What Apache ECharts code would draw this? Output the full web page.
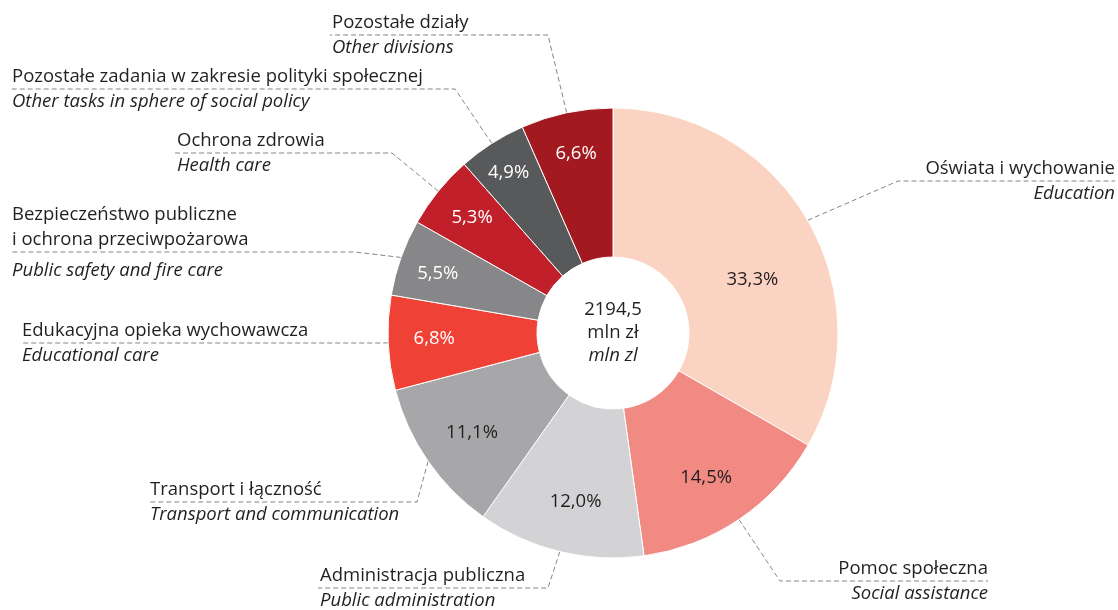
<!DOCTYPE html>
<html>
<head>
<meta charset="utf-8">
<script src="https://cdn.jsdelivr.net/npm/echarts@6/dist/echarts.min.js"></script>
<style>
  html, body { margin: 0; padding: 0; background: #fff; }
  #chart { width: 1118px; height: 610px; }
</style>
</head>
<body>
<div id="chart"></div>
<script>
// dane
var namesPl = ['Oświata i wychowanie', 'Pomoc społeczna', 'Administracja publiczna', 'Transport i łączność',
  'Edukacyjna opieka wychowawcza', 'Bezpieczeństwo publiczne\ni ochrona przeciwpożarowa', 'Ochrona zdrowia',
  'Pozostałe zadania w zakresie polityki społecznej', 'Pozostałe działy'];
var namesEn = ['Education', 'Social assistance', 'Public administration', 'Transport and communication',
  'Educational care', 'Public safety and fire care', 'Health care',
  'Other tasks in sphere of social policy', 'Other divisions'];
var shares = [33.3, 14.5, 12.0, 11.1, 6.8, 5.5, 5.3, 4.9, 6.6];
var totalLabel = ['2194,5', 'mln zł', 'mln zl'];

// wyglad
var colors = ['#fbd3c2', '#f28a84', '#d3d3d5', '#a7a7aa', '#ef4135', '#87878a', '#c1202b', '#58595b', '#a2191f'];
var pctColors = ['#231f20', '#231f20', '#231f20', '#231f20', '#fff', '#fff', '#fff', '#fff', '#fff'];
var pctRadius = [146, 170, 171, 174, 180, 186, 184, 192, 184];
var pctNudge = [[13, 20], [-2, 4], [3, 3], [2, 1], [1, -2], [0, 3], [2, 1], [-1, 2], [1, 1]];
var labelPos = [
  {side: 'right', lineY: 181, elbowX: 898, textX: 1115},
  {side: 'right', lineY: 581, elbowX: 780, textX: 988},
  {side: 'left', lineY: 588, elbowX: 548, textX: 320},
  {side: 'left', lineY: 502, elbowX: 417, textX: 150},
  {side: 'left', lineY: 343, elbowX: 380, textX: 22},
  {side: 'left', lineY: 252, elbowX: 355, textX: 12, enLH: 37},
  {side: 'left', lineY: 153, elbowX: 392, textX: 177},
  {side: 'left', lineY: 89, elbowX: 455, textX: 12},
  {side: 'left', lineY: 35, elbowX: 548, textX: 332}
];

var CX = 613, CY = 333, R0 = 76, R1 = 225;
var FONT = '"Open Sans", sans-serif';
var FS = 18.5, LH = 25;
var TXT = '#231f20';

var chart = echarts.init(document.getElementById('chart'), null, {renderer: 'canvas'});

var pieData = shares.map(function (v, i) {
  return {
    value: v,
    name: namesEn[i],
    itemStyle: {color: colors[i]},
    label: {color: pctColors[i]}
  };
});
var outerData = shares.map(function (v, i) {
  return {value: v, name: namesEn[i]};
});

function fmtPct(v) {
  return v.toFixed(1).replace('.', ',') + '%';
}

var option = {
  animation: false,
  backgroundColor: '#fff',
  series: [
    {
      type: 'pie',
      center: [CX, CY],
      radius: [R0, R1],
      startAngle: 90,
      clockwise: true,
      silent: true,
      itemStyle: {borderColor: '#fff', borderWidth: 1},
      label: {
        show: true,
        position: 'inside',
        fontFamily: FONT,
        fontSize: FS,
        formatter: function (p) { return fmtPct(p.value); }
      },
      labelLine: {show: false},
      labelLayout: function (p) {
        var r = p.labelRect;
        var x = r.x + r.width / 2, y = r.y + r.height / 2;
        var dx = x - CX, dy = y - CY;
        var d = Math.sqrt(dx * dx + dy * dy) || 1;
        var k = pctRadius[p.dataIndex] / d;
        var n = pctNudge[p.dataIndex];
        return {x: CX + dx * k + n[0], y: CY + dy * k + n[1], align: 'center', verticalAlign: 'middle'};
      },
      data: pieData
    },
    {
      // opisy z liniami
      type: 'pie',
      center: [CX, CY],
      radius: [R0, R1],
      startAngle: 90,
      clockwise: true,
      silent: true,
      avoidLabelOverlap: false,
      itemStyle: {color: 'rgba(0,0,0,0)', borderWidth: 0},
      label: {
        show: true,
        position: 'outside',
        width: 470,
        overflow: 'none',
        formatter: function (p) {
          var i = p.dataIndex;
          var key = labelPos[i].side === 'right' ? 'R' : 'L';
          var en = labelPos[i].enLH ? 'c' : 'b';
          var pl = namesPl[i].split('\n').map(function (s) { return '{a' + key + '|' + s + '}'; });
          return pl.join('\n') + '\n{' + en + key + '|' + namesEn[i] + '}';
        },
        rich: {
          aL: {fontFamily: FONT, fontSize: FS, lineHeight: LH, color: TXT, align: 'left'},
          bL: {fontFamily: FONT, fontSize: FS, lineHeight: LH, color: TXT, fontStyle: 'italic', align: 'left'},
          cL: {fontFamily: FONT, fontSize: FS, lineHeight: 37, color: TXT, fontStyle: 'italic', align: 'left'},
          aR: {fontFamily: FONT, fontSize: FS, lineHeight: LH, color: TXT, align: 'right'},
          bR: {fontFamily: FONT, fontSize: FS, lineHeight: LH, color: TXT, fontStyle: 'italic', align: 'right'}
        }
      },
      labelLine: {
        show: true,
        length: 20,
        length2: 20,
        lineStyle: {color: '#858585', width: 1, type: [5, 3]}
      },
      labelLayout: function (p) {
        var L = labelPos[p.dataIndex];
        var p0 = p.labelLinePoints[0];
        var endX = L.side === 'right' ? L.textX : L.textX - 2;
        return {
          x: L.textX,
          y: L.lineY + (L.enLH || LH),
          align: L.side,
          verticalAlign: 'bottom',
          labelLinePoints: [p0, [L.elbowX, L.lineY], [endX, L.lineY]]
        };
      },
      data: outerData
    },
    {
      // suma w srodku
      type: 'pie',
      center: [CX, CY],
      radius: [0, R0 - 2],
      silent: true,
      itemStyle: {color: 'rgba(0,0,0,0)'},
      label: {
        show: true,
        position: 'center',
        formatter: '{v|' + totalLabel[0] + '}\n{u|' + totalLabel[1] + '}\n{e|' + totalLabel[2] + '}',
        rich: {
          v: {fontFamily: FONT, fontSize: FS, lineHeight: 23, color: TXT},
          u: {fontFamily: FONT, fontSize: FS, lineHeight: 23, color: TXT},
          e: {fontFamily: FONT, fontSize: FS, lineHeight: 23, color: TXT, fontStyle: 'italic'}
        }
      },
      labelLine: {show: false},
      data: [{value: 1, name: 'total'}]
    }
  ]
};

chart.setOption(option);
</script>
</body>
</html>
